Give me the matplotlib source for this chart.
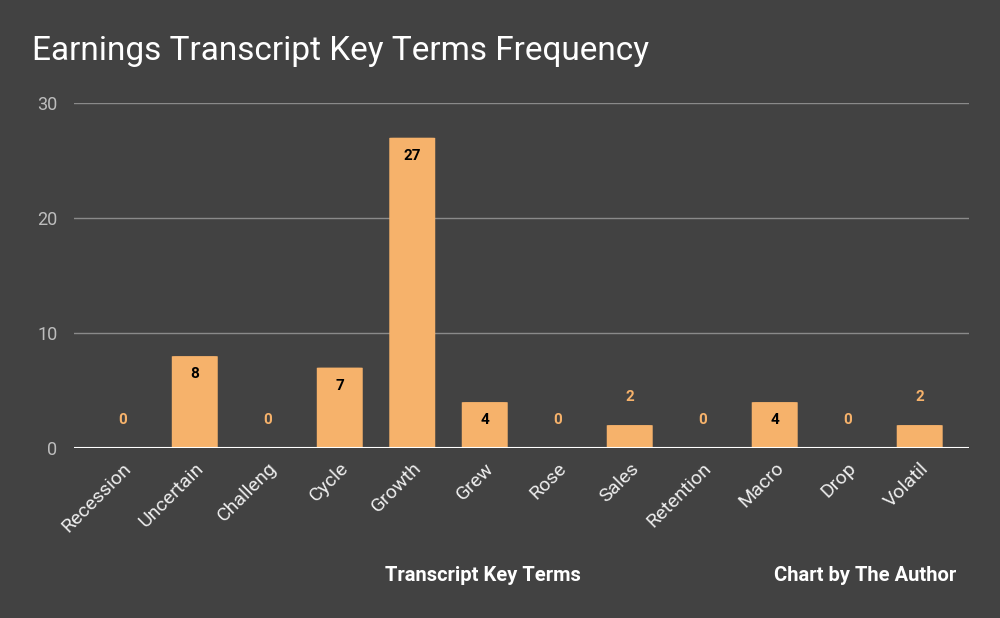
import matplotlib
matplotlib.use("Agg")
import matplotlib.pyplot as plt
from matplotlib.patches import FancyBboxPatch

terms = ["Recession", "Uncertain", "Challeng", "Cycle", "Growth", "Grew",
         "Rose", "Sales", "Retention", "Macro", "Drop", "Volatil"]
counts = [0, 8, 0, 7, 27, 4, 0, 2, 0, 4, 0, 2]
yticks = [0, 10, 20, 30]

BG = "#424242"
BAR = "#f6b26b"
plt.rcParams['font.family'] = ['Roboto', 'DejaVu Sans']

fig = plt.figure(figsize=(10, 6.18), dpi=100, facecolor=BG)
ax = fig.add_axes([0.074, 0.275, 0.895, 0.558], facecolor=BG)

x = list(range(len(terms)))
bw = 0.634
for xi, v in zip(x, counts):
    if v > 0:
        p = FancyBboxPatch((xi - bw / 2, 0), bw, v,
                           boxstyle="round,pad=0,rounding_size=0.06",
                           mutation_aspect=1 / 2.6,
                           facecolor=BAR, edgecolor="none", zorder=3)
        ax.add_patch(p)

ax.set_ylim(0, 30)
ax.set_xlim(-0.666, 11.68)
ax.set_yticks(yticks)
ax.set_yticklabels([str(t) for t in yticks], color="#bdbdbd", fontsize=13)
ax.grid(axis="y", color="#8a8a8a", linewidth=1, zorder=0)
ax.axhline(0, color="white", linewidth=1.5, zorder=4)
ax.set_xticks(x)
ax.set_xticklabels(terms, rotation=45, ha="right", rotation_mode="anchor",
                   color="#eeeeee", fontsize=14)
ax.tick_params(axis="y", length=0, pad=12)
ax.tick_params(axis="x", length=0, pad=8)
for s in ax.spines.values():
    s.set_visible(False)

for xi, v in zip(x, counts):
    if v >= 4:
        ax.annotate(str(v), (xi, v), xytext=(0, -13), textcoords="offset points",
                    ha="center", va="center", fontsize=11, fontweight="bold",
                    color="black", zorder=5)
    else:
        ax.annotate(str(v), (xi, v), xytext=(0, 20), textcoords="offset points",
                    ha="center", va="center", fontsize=11, fontweight="bold",
                    color=BAR, zorder=5)

fig.text(0.032, 0.918, "Earnings Transcript Key Terms Frequency", color="white",
         fontsize=24, ha="left", va="center")
fig.text(0.483, 0.069, "Transcript Key Terms", color="white", fontsize=14.5,
         fontweight="bold", ha="center", va="center")
fig.text(0.956, 0.069, "Chart by The Author", color="white", fontsize=14.5,
         fontweight="bold", ha="right", va="center")

fig.savefig("out.png", dpi=100, facecolor=BG)
